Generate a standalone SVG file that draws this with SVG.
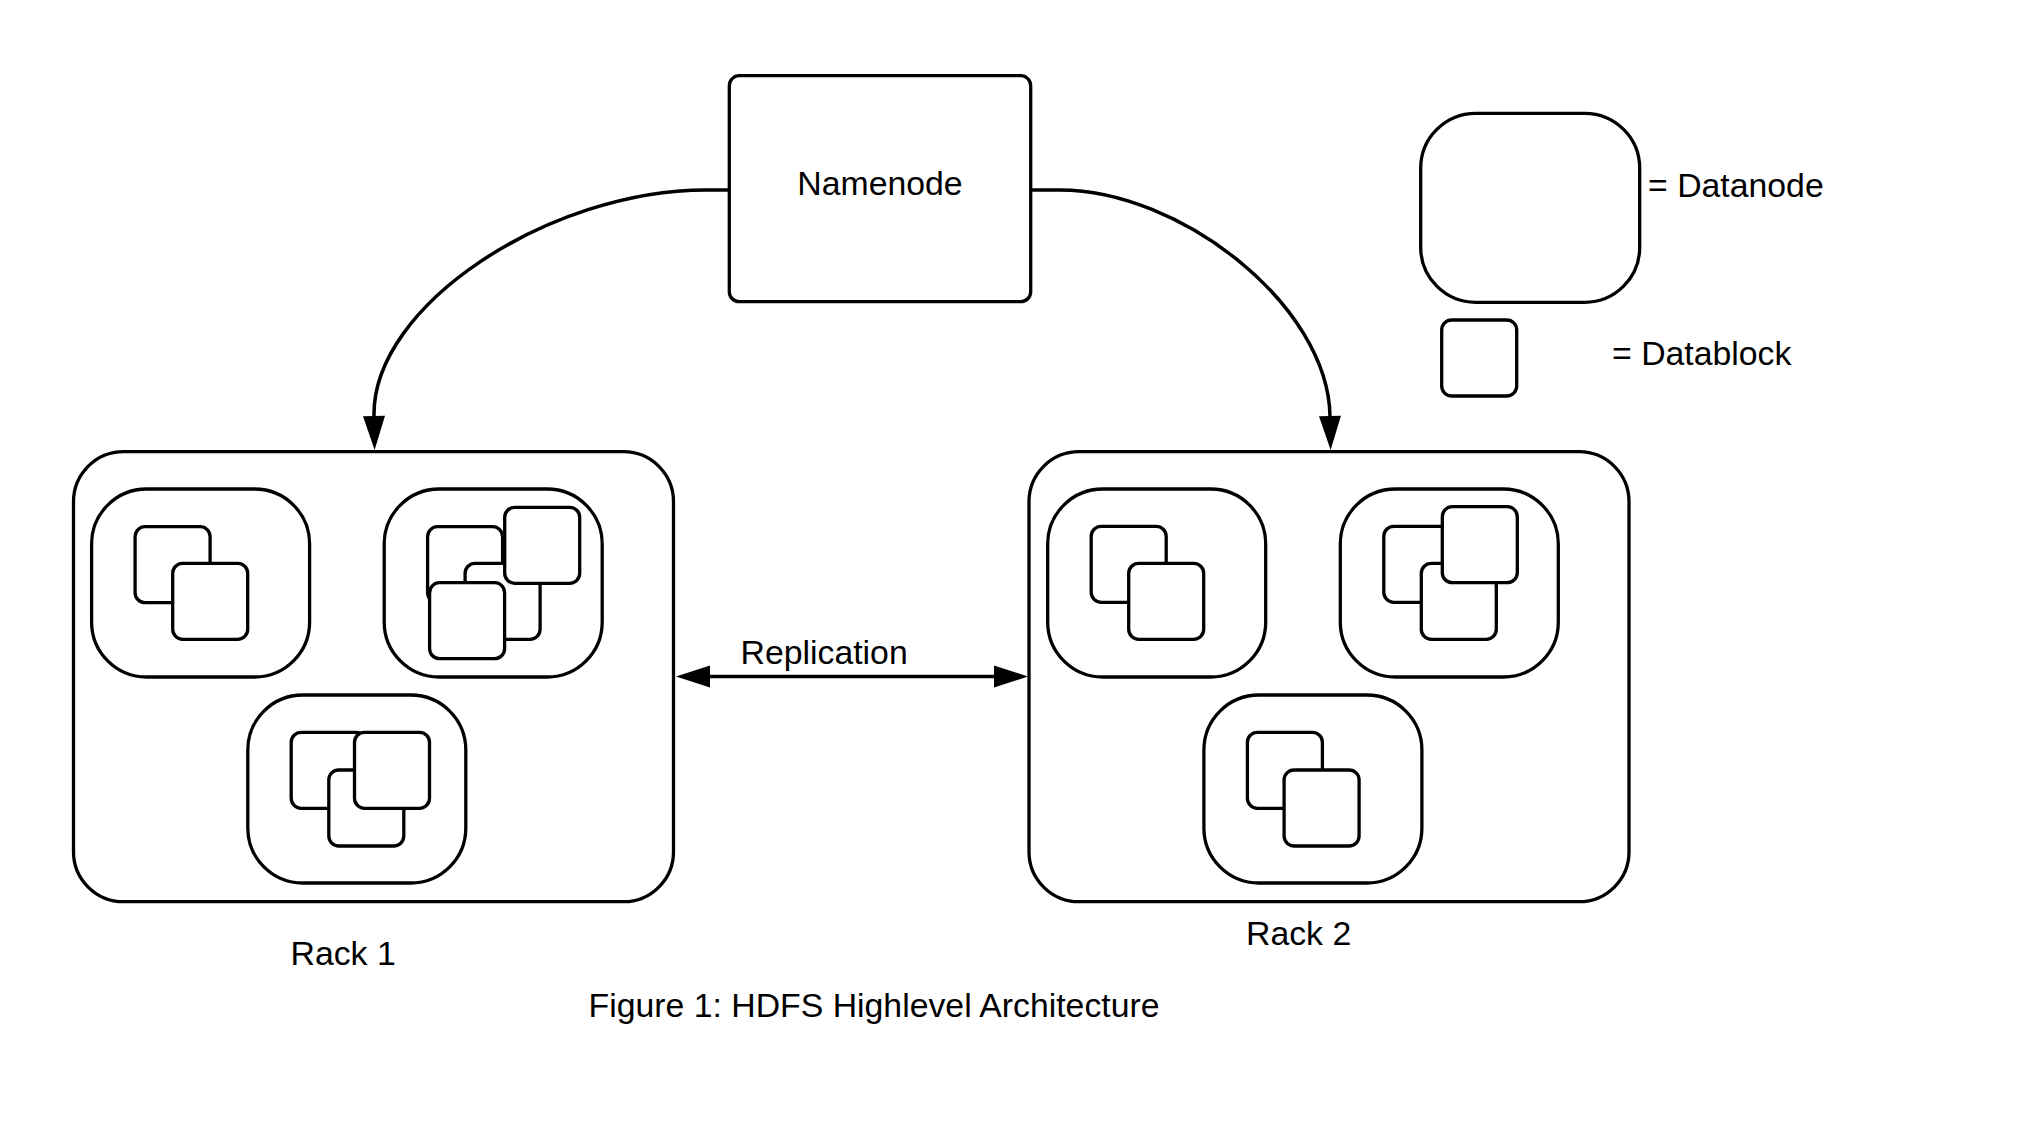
<svg xmlns="http://www.w3.org/2000/svg" width="2023" height="1140" viewBox="0 0 2023 1140">
<style>
  .rack { fill: #ffffff; stroke: #000000; stroke-width: 3.3; }
  .dn { fill: #ffffff; stroke: #000000; stroke-width: 3.3; }
  .blk { fill: #ffffff; stroke: #000000; stroke-width: 3.3; }
  .nn { fill: #ffffff; stroke: #000000; stroke-width: 3.3; }
  .conn { fill: none; stroke: #000000; stroke-width: 3.5; }
  .lbl { font-family: "Liberation Sans", Arial, sans-serif; font-size: 33.8px; fill: #000000; }
</style>
<defs>
  <marker id="arr" markerUnits="userSpaceOnUse" viewBox="0 0 34 22" markerWidth="34" markerHeight="22" refX="0" refY="11" orient="auto-start-reverse" overflow="visible">
    <path d="M0,0 L34,11 L0,22 Z" fill="#000000"/>
  </marker>
  <rect id="block" width="75" height="76" rx="10" ry="10"/>
</defs>
<rect width="2023" height="1140" fill="#ffffff"/>

<g id="connectors">
  <path class="conn" d="M729.3,190 L706,190 C550,190 372,305 374,416" marker-end="url(#arr)"/>
  <path class="conn" d="M1030.7,190 L1060,190 C1180,190 1328,305 1330,416" marker-end="url(#arr)"/>
  <path class="conn" d="M710,676.5 L994,676.5" marker-start="url(#arr)" marker-end="url(#arr)"/>
</g>

<g id="namenode">
  <rect class="nn" x="729.3" y="75.7" width="301.4" height="226" rx="10" ry="10"/>
  <text class="lbl" x="880" y="195" text-anchor="middle">Namenode</text>
</g>

<g id="legend-datanode">
  <rect class="dn" x="1420.7" y="113.3" width="219" height="189" rx="55" ry="55"/>
  <text class="lbl" x="1648" y="196.7">= Datanode</text>
</g>
<g id="legend-datablock">
  <use href="#block" class="blk" x="1441.7" y="320"/>
  <text class="lbl" x="1612" y="365">= Datablock</text>
</g>

<g id="rack1">
  <rect class="rack" x="73.5" y="451.7" width="600" height="450" rx="50" ry="50"/>
  <g id="rack1-datanode1">
    <rect class="dn" x="91.6" y="489" width="218" height="188" rx="55" ry="55"/>
    <use href="#block" class="blk" x="135.1" y="526.7"/>
    <use href="#block" class="blk" x="172.7" y="563.3"/>
  </g>
  <g id="rack1-datanode2">
    <rect class="dn" x="384.2" y="489" width="218" height="188" rx="55" ry="55"/>
    <use href="#block" class="blk" x="427.6" y="526.7"/>
    <use href="#block" class="blk" x="465.1" y="563.3"/>
    <use href="#block" class="blk" x="504.7" y="507.3"/>
    <use href="#block" class="blk" x="429.6" y="582.7"/>
  </g>
  <g id="rack1-datanode3">
    <rect class="dn" x="247.8" y="695" width="218" height="188" rx="55" ry="55"/>
    <use href="#block" class="blk" x="291.2" y="732.3"/>
    <use href="#block" class="blk" x="328.8" y="770"/>
    <use href="#block" class="blk" x="354.5" y="732.3"/>
  </g>
  <text class="lbl" x="290.5" y="965">Rack 1</text>
</g>

<g id="rack2">
  <rect class="rack" x="1029" y="451.7" width="600" height="450" rx="50" ry="50"/>
  <g id="rack2-datanode1">
    <rect class="dn" x="1047.7" y="489" width="218" height="188" rx="55" ry="55"/>
    <use href="#block" class="blk" x="1091.2" y="526.3"/>
    <use href="#block" class="blk" x="1128.7" y="563.3"/>
  </g>
  <g id="rack2-datanode2">
    <rect class="dn" x="1340.3" y="489" width="218" height="188" rx="55" ry="55"/>
    <use href="#block" class="blk" x="1383.8" y="526.3"/>
    <use href="#block" class="blk" x="1421.3" y="563.3"/>
    <use href="#block" class="blk" x="1442.3" y="506.7"/>
  </g>
  <g id="rack2-datanode3">
    <rect class="dn" x="1203.9" y="695" width="218" height="188" rx="55" ry="55"/>
    <use href="#block" class="blk" x="1247.4" y="732.3"/>
    <use href="#block" class="blk" x="1284.1" y="770"/>
  </g>
  <text class="lbl" x="1246" y="945">Rack 2</text>
</g>

<g id="labels">
  <text class="lbl" x="740.5" y="664.3">Replication</text>
  <text class="lbl" x="588.5" y="1016.7">Figure 1: HDFS Highlevel Architecture</text>
</g>
</svg>
